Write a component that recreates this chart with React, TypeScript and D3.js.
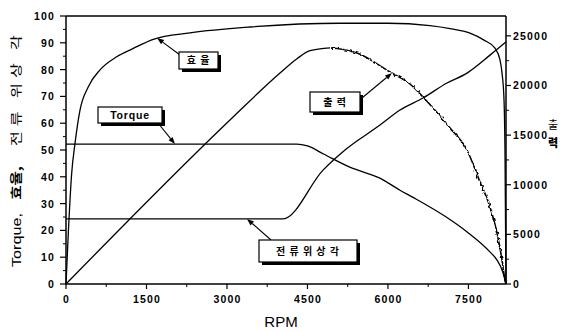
import React from "react";
import * as d3 from "d3";

// ---- data ----
const RPM_TICKS = [0, 1500, 3000, 4500, 6000, 7500];
const LEFT_TICKS = [0, 10, 20, 30, 40, 50, 60, 70, 80, 90, 100];
const RIGHT_TICKS = [0, 5000, 10000, 15000, 20000, 25000];

// efficiency [rpm, %]
const efficiency: [number, number][] = [
  [0, 0], [43, 19], [106, 41.3], [168, 52.5], [261, 64.9], [416, 73.6], [634, 79.9],
  [945, 84.8], [1254, 87.9], [1627, 91.3], [2311, 93.7], [3429, 95.9], [5106, 97.3],
  [6000, 97.3], [6783, 96.4], [7156, 95.3], [7529, 93.6], [7790, 91], [7995, 88],
  [8088, 83.6], [8126, 78.7], [8163, 68.7], [8181, 50], [8200, 0],
];
// torque [rpm, Nm]
const torque: [number, number][] = [
  [0, 52.2], [4300, 52.2], [4500, 51.5], [4800, 48.5], [5300, 43.5], [5850, 39.5],
  [6225, 35], [6470, 32.3], [7100, 24.8], [7470, 19.5], [7900, 12], [8030, 9],
  [8140, 4.5], [8200, 0],
];
// current phase angle [rpm, deg]
const currentAngle: [number, number][] = [
  [0, 24.3], [4044, 24.3], [4790, 42.5], [5200, 50], [5852, 59.3], [6225, 64.9],
  [6653, 69.4], [7100, 75], [7473, 78.7], [7902, 85.4], [8200, 90.3],
];
// output [rpm, W] — rising part, then falling (stepped) part
const outputRise: [number, number][] = [
  [0, 0], [3056, 16523], [3988, 21258], [4305, 22700], [4547, 23500], [4920, 23780],
];
const outputFall: [number, number][] = [
  [4920, 23780], [5150, 23650], [5423, 23270], [6038, 21359], [6411, 20150], [6653, 18840],
  [7156, 15717], [7473, 13500], [7715, 10276], [7902, 7758], [8032, 5138],
  [8126, 2418], [8181, 403], [8200, 0],
];

const CALLOUT_LABELS = ["효 율", "Torque", "출 력", "전 류 위 상 각"];
// arrow targets in data space: [rpm, value, axis]
const CALLOUT_TARGETS: [number, number, "L" | "R"][] = [
  [1696, 91.8, "L"],
  [2031, 52.2, "L"],
  [6075, 21258, "R"],
  [3373, 24.3, "L"],
];

// ---- layout ----
const W = 587, H = 332;
const PL = 66, PR = 506, PT = 16, PB = 284;
const BOXES = [
  { x: 179, y: 52, w: 39, h: 17, tx: 180, ty: 55 },
  { x: 98, y: 107, w: 64, h: 16, tx: 158, ty: 123 },
  { x: 310, y: 92, w: 50, h: 20, tx: 362, ty: 98 },
  { x: 259, y: 240, w: 98, h: 22, tx: 271, ty: 240 },
];

const sans = "'Liberation Sans', Arial, 'Noto Sans CJK KR', sans-serif";
const kr = "'Noto Sans CJK KR', 'Liberation Sans', sans-serif";

export default function App() {
  const x = d3.scaleLinear().domain([0, 8200]).range([PL, PR]);
  const yL = d3.scaleLinear().domain([0, 100]).range([PB, PT]);
  const yR = d3.scaleLinear().domain([0, 27000]).range([PB, PT]);

  const lineL = d3.line<[number, number]>().x((d) => x(d[0])).y((d) => yL(d[1])).curve(d3.curveMonotoneX);
  const lineR = d3.line<[number, number]>().x((d) => x(d[0])).y((d) => yR(d[1])).curve(d3.curveMonotoneX);

  const minorX = d3.range(750, 8200, 1500);
  const minorL = d3.range(5, 100, 10);
  const minorR = d3.range(2500, 27000, 5000);

  const tickFont = { fontFamily: sans, fontSize: 10.5, fontWeight: 700, letterSpacing: 1.2 } as const;

  return (
    <svg width={W} height={H} style={{ position: "absolute", left: 0, top: 0, background: "#fff" }}>
      <defs>
        <filter id="jag" x="-5%" y="-5%" width="110%" height="110%">
          <feTurbulence type="fractalNoise" baseFrequency="0.32" numOctaves={1} seed={7} result="t" />
          <feDisplacementMap in="SourceGraphic" in2="t" scale={4} xChannelSelector="R" yChannelSelector="G" />
        </filter>
      </defs>
      <rect x={0} y={0} width={W} height={H} fill="#fff" />
      {/* frame */}
      <line x1={PL} y1={PT} x2={PR} y2={PT} stroke="#000" strokeWidth={1.3} />
      <line x1={PL} y1={PT} x2={PL} y2={PB} stroke="#000" strokeWidth={1.5} />
      <line x1={PR} y1={PT} x2={PR} y2={PB} stroke="#000" strokeWidth={1.5} />
      <line x1={PL} y1={PB} x2={PR} y2={PB} stroke="#000" strokeWidth={1.5} />

      {/* left ticks */}
      {LEFT_TICKS.map((t) => (
        <g key={"l" + t}>
          <line x1={PL - 6} x2={PL} y1={yL(t)} y2={yL(t)} stroke="#000" strokeWidth={1.2} />
          <text x={55} y={yL(t) + 4} textAnchor="end" {...tickFont}>{t}</text>
        </g>
      ))}
      {minorL.map((t) => (
        <line key={"lm" + t} x1={PL - 3} x2={PL} y1={yL(t)} y2={yL(t)} stroke="#000" strokeWidth={1} />
      ))}
      {/* bottom ticks */}
      {RPM_TICKS.map((t) => (
        <g key={"b" + t}>
          <line x1={x(t)} x2={x(t)} y1={PB} y2={PB + 5} stroke="#000" strokeWidth={1.2} />
          <text x={x(t) + 0.6} y={303} textAnchor="middle" {...tickFont}>{t}</text>
        </g>
      ))}
      {minorX.map((t) => (
        <line key={"bm" + t} x1={x(t)} x2={x(t)} y1={PB} y2={PB + 3} stroke="#000" strokeWidth={1} />
      ))}
      {/* right ticks */}
      {RIGHT_TICKS.map((t) => (
        <g key={"r" + t}>
          <line x1={PR} x2={PR + 5} y1={yR(t)} y2={yR(t)} stroke="#000" strokeWidth={1.2} />
          <text x={513} y={yR(t) + 4} textAnchor="start" {...tickFont}>{t}</text>
        </g>
      ))}
      {minorR.map((t) => (
        <line key={"rm" + t} x1={PR} x2={PR + 3} y1={yR(t)} y2={yR(t)} stroke="#000" strokeWidth={1} />
      ))}

      {/* axis titles */}
      <text x={281} y={327} textAnchor="middle" fontFamily={sans} fontSize={15}>RPM</text>
      <text transform="translate(21,240) rotate(-90) scale(1.35,1)" textAnchor="middle" fontFamily={sans} fontSize={12}>Torque,</text>
      <text transform="translate(21,183) rotate(-90) scale(1.3,1)" textAnchor="middle" fontFamily={kr} fontWeight={700} fontSize={12}>효율,</text>
      <text transform="translate(21,88) rotate(-90) scale(1.35,1)" textAnchor="middle" fontFamily={kr} fontSize={12} letterSpacing={3.6}>전류 위상 각</text>
      <text x={553} y={129} textAnchor="middle" fontFamily={kr} fontSize={11}>출</text>
      <text x={553} y={147} textAnchor="middle" fontFamily={kr} fontWeight={900} fontSize={11}>력</text>

      {/* curves */}
      <g fill="none" stroke="#000" strokeWidth={1.3} strokeLinejoin="round">
        <path d={lineL(efficiency) || ""} />
        <path d={lineL(torque) || ""} />
        <path d={lineL(currentAngle) || ""} />
        <path d={lineR(outputRise) || ""} />
        <path d={lineR(outputFall) || ""} filter="url(#jag)" strokeWidth={1.6} />
      </g>

      {/* callouts */}
      {CALLOUT_LABELS.map((lab, i) => {
        const b = BOXES[i];
        const tg = CALLOUT_TARGETS[i];
        const px = x(tg[0]);
        const py = tg[2] === "L" ? yL(tg[1]) : yR(tg[1]);
        const ang = Math.atan2(py - b.ty, px - b.tx);
        const L = 7, hw = 2.6;
        const bx = px - L * Math.cos(ang), by = py - L * Math.sin(ang);
        const p1 = [bx + hw * Math.sin(ang), by - hw * Math.cos(ang)];
        const p2 = [bx - hw * Math.sin(ang), by + hw * Math.cos(ang)];
        const isLatin = /^[A-Za-z]+$/.test(lab);
        return (
          <g key={"c" + i}>
            <line x1={b.tx} y1={b.ty} x2={bx} y2={by} stroke="#000" strokeWidth={1.1} />
            <polygon points={`${px},${py} ${p1[0]},${p1[1]} ${p2[0]},${p2[1]}`} fill="#000" />
            <rect x={b.x + 3} y={b.y + 3} width={b.w} height={b.h} fill="#000" />
            <rect x={b.x} y={b.y} width={b.w} height={b.h} fill="#fff" stroke="#000" strokeWidth={1.2} />
            <text
              x={b.x + b.w / 2}
              y={b.y + b.h / 2 + 3.8}
              textAnchor="middle"
              fontFamily={isLatin ? sans : kr}
              fontWeight={700}
              fontSize={isLatin ? 10.5 : 10}
              letterSpacing={isLatin ? 0.8 : 1}
            >
              {lab}
            </text>
          </g>
        );
      })}
    </svg>
  );
}
